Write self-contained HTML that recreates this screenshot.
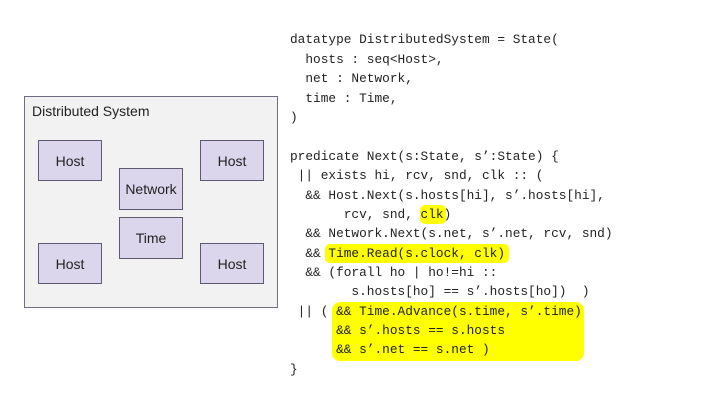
<!DOCTYPE html>
<html><head><meta charset="utf-8"><style>
body{margin:0;width:720px;height:405px;background:#fff;position:relative;overflow:hidden;font-family:"Liberation Sans",sans-serif}
.b{position:absolute;background:#dcd6ec;border:1px solid #5e5873;box-sizing:border-box;display:flex;align-items:center;justify-content:center;font-size:14px;color:#222}
.l{position:absolute;left:290px;font-family:"Liberation Mono",monospace;font-size:12.8px;white-space:pre;color:#222;line-height:16px}
.h{position:absolute;background:#ffff00;border-radius:5px}
</style></head><body>
<div style="position:absolute;left:24px;top:96px;width:254px;height:212px;background:#f2f2f2;border:1px solid #6e6e80;box-sizing:border-box"></div>
<div style="position:absolute;left:32px;top:103px;font-size:14px;color:#222">Distributed System</div>
<div class="b" style="left:38px;top:140px;width:64px;height:41px">Host</div>
<div class="b" style="left:200px;top:140px;width:64px;height:41px">Host</div>
<div class="b" style="left:38px;top:243px;width:64px;height:41px">Host</div>
<div class="b" style="left:200px;top:243px;width:64px;height:41px">Host</div>
<div class="b" style="left:119px;top:168px;width:64px;height:42px">Network</div>
<div class="b" style="left:119px;top:217px;width:64px;height:42px">Time</div>
<div class="h" style="left:420px;top:205px;width:26px;height:19px"></div>
<div class="h" style="left:325px;top:244px;width:184px;height:19px"></div>
<div class="h" style="left:332px;top:302px;width:252px;height:59px;border-radius:8px"></div>
<div class="l" style="top:32px">datatype DistributedSystem = State(</div>
<div class="l" style="top:52px">  hosts : seq&lt;Host&gt;,</div>
<div class="l" style="top:71px">  net : Network,</div>
<div class="l" style="top:91px">  time : Time,</div>
<div class="l" style="top:110px">)</div>
<div class="l" style="top:149px">predicate Next(s:State, s’:State) {</div>
<div class="l" style="top:168px"> || exists hi, rcv, snd, clk :: (</div>
<div class="l" style="top:188px">  &amp;&amp; Host.Next(s.hosts[hi], s’.hosts[hi],</div>
<div class="l" style="top:207px">       rcv, snd, clk)</div>
<div class="l" style="top:226px">  &amp;&amp; Network.Next(s.net, s’.net, rcv, snd)</div>
<div class="l" style="top:246px">  &amp;&amp; Time.Read(s.clock, clk)</div>
<div class="l" style="top:265px">  &amp;&amp; (forall ho | ho!=hi ::</div>
<div class="l" style="top:284px">        s.hosts[ho] == s’.hosts[ho])  )</div>
<div class="l" style="top:304px"> || ( &amp;&amp; Time.Advance(s.time, s’.time)</div>
<div class="l" style="top:323px">      &amp;&amp; s’.hosts == s.hosts</div>
<div class="l" style="top:342px">      &amp;&amp; s’.net == s.net )</div>
<div class="l" style="top:362px">}</div>
</body></html>
